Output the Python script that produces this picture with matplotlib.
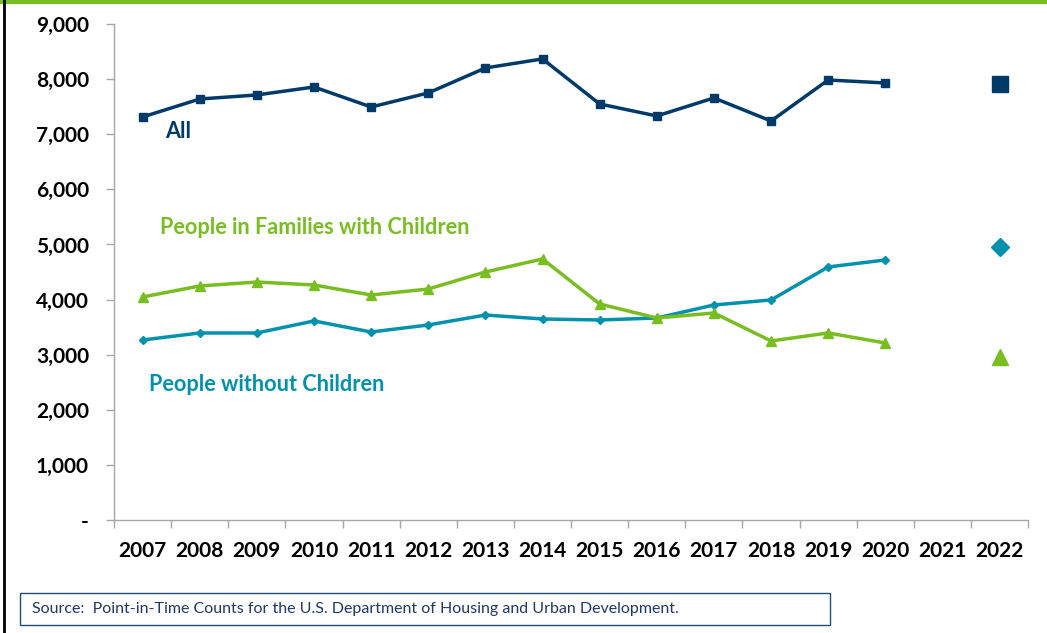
import matplotlib
matplotlib.use('Agg')
import matplotlib.pyplot as plt
from matplotlib.ticker import FuncFormatter, FixedLocator
import matplotlib.patches as patches
import matplotlib.lines as mlines

years = [str(y) for y in range(2007, 2023)]
line_years = list(range(2007, 2021))

# 2007-2020 counts (no 2021 count), 2022 plotted on its own
all_people = [7314, 7640, 7713, 7858, 7495, 7750, 8203, 8367, 7550, 7332, 7659, 7241, 7985, 7931]
families = [4047, 4247, 4319, 4265, 4083, 4192, 4501, 4737, 3920, 3666, 3757, 3249, 3394, 3212]
no_children = [3267, 3394, 3394, 3612, 3412, 3539, 3720, 3648, 3630, 3666, 3902, 3993, 4592, 4719]
all_2022 = 7913
families_2022 = 2958
no_children_2022 = 4955

navy = '#003A68'
teal = '#0091AC'
green = '#78BE21'

plt.rcParams['font.family'] = ['Lato', 'DejaVu Sans']

fig = plt.figure(figsize=(10.47, 6.33), dpi=100)
ax = fig.add_axes([0.1089, 0.1785, 0.8731, 0.7835])

xi = [years.index(str(y)) for y in line_years]
x22 = years.index('2022')

ax.plot(xi, all_people, color=navy, lw=2.5, marker='s', ms=5.5)
ax.plot(xi, no_children, color=teal, lw=2.5, marker='D', ms=4.5)
ax.plot(xi, families, color=green, lw=2.5, marker='^', ms=6.5)
ax.plot([x22], [all_2022], color=navy, marker='s', ms=11, ls='none')
ax.plot([x22], [no_children_2022], color=teal, marker='D', ms=9.5, ls='none')
ax.plot([x22], [families_2022], color=green, marker='^', ms=12, ls='none')

ax.text(0.4, 7050, 'All', color=navy, fontsize=15.6, fontweight='bold', va='center')
ax.text(0.3, 5300, 'People in Families with Children', color=green, fontsize=15.6,
        fontweight='bold', va='center')
ax.text(0.12, 2450, 'People without Children', color=teal, fontsize=15.6,
        fontweight='bold', va='center')

ax.set_xlim(-0.5, len(years) - 0.5)
ax.set_ylim(0, 9000)
ax.set_yticks(range(0, 9001, 1000))
ax.yaxis.set_major_formatter(FuncFormatter(lambda v, p: '-' if v == 0 else f'{int(v):,}'))
ax.set_xticks(range(len(years)))
ax.set_xticklabels(years)
ax.xaxis.set_minor_locator(FixedLocator([i - 0.5 for i in range(len(years) + 1)]))
ax.tick_params(axis='x', which='major', length=0, pad=15, labelsize=15)
ax.tick_params(axis='x', which='minor', length=6, color='#A6A6A6', width=1)
ax.tick_params(axis='y', length=6, color='#A6A6A6', width=1, pad=12, labelsize=15)
for lab in ax.get_xticklabels() + ax.get_yticklabels():
    lab.set_fontweight('bold')

for s in ['top', 'right']:
    ax.spines[s].set_visible(False)
for s in ['left', 'bottom']:
    ax.spines[s].set_color('#A6A6A6')
    ax.spines[s].set_linewidth(1)

# frame bits of the slide
fig.add_artist(mlines.Line2D([0, 1], [0.9975, 0.9975], color=green, lw=3, transform=fig.transFigure))
fig.add_artist(mlines.Line2D([0.004, 0.004], [0, 1], color='black', lw=2, transform=fig.transFigure))
fig.add_artist(patches.Rectangle((20 / 1047, 1 - 625 / 633), 810 / 1047, 32 / 633,
                                 transform=fig.transFigure, fill=False, edgecolor='#1F4E79', lw=1))
fig.text(32 / 1047, 1 - 609 / 633, 'Source:  Point-in-Time Counts for the U.S. Department of Housing and Urban Development.',
         fontsize=11.5, color='#1F3864', va='center')

fig.savefig('out.png', dpi=100)
